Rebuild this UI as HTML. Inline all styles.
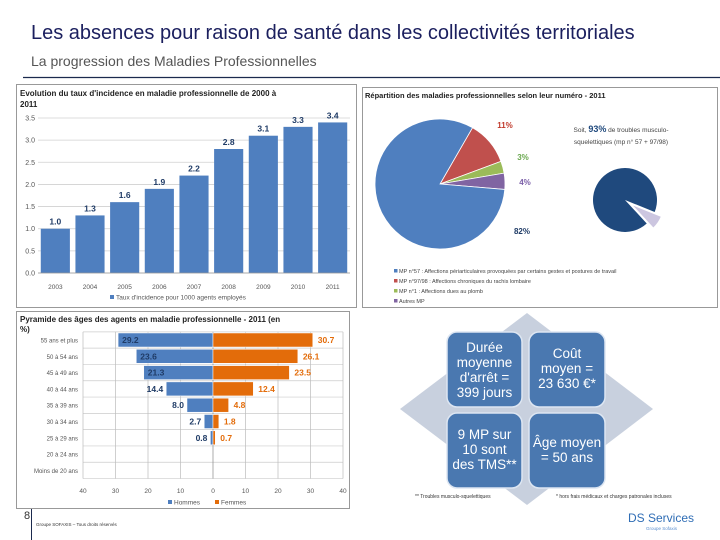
<!DOCTYPE html>
<html><head><meta charset="utf-8">
<style>
body{margin:0;background:#fff;}
svg{display:block;font-family:"Liberation Sans",sans-serif;}
</style></head>
<body>
<svg id="s" width="720" height="540" viewBox="0 0 720 540" xmlns="http://www.w3.org/2000/svg">
<text x="31" y="39" font-size="20" fill="#1b1f5e">Les absences pour raison de santé dans les collectivités territoriales</text>
<text x="31" y="66" font-size="14" fill="#555">La progression des Maladies Professionnelles</text>
<line x1="23" y1="77.5" x2="720" y2="77.5" stroke="#1b2a4e" stroke-width="1.2"/>

<g id="c1">
<rect x="16.5" y="84.5" width="340" height="223" fill="#fff" stroke="#999"/>
<text x="20" y="96" font-size="8" font-weight="bold" fill="#222">Evolution du taux d'incidence en maladie professionnelle  de 2000 à</text>
<text x="20" y="107" font-size="8" font-weight="bold" fill="#222">2011</text>
</g>
<g id="c2">
<rect x="16.5" y="311.5" width="333" height="197" fill="#fff" stroke="#999"/>
<text x="20" y="322" font-size="8" font-weight="bold" fill="#222">Pyramide des âges des agents en maladie professionnelle - 2011 (en</text>
<text x="20" y="332" font-size="8" font-weight="bold" fill="#222">%)</text>
</g>
<g id="c3">
<rect x="362.5" y="87.5" width="355" height="220" fill="#fff" stroke="#999"/>
<text x="365" y="98" font-size="7.5" font-weight="bold" fill="#222">Répartition des maladies professionnelles selon leur numéro - 2011</text>
<text x="621" y="132" font-size="6.5" fill="#444" text-anchor="middle">Soit, <tspan font-size="9" font-weight="bold" fill="#1f497d">93%</tspan> de troubles musculo-</text>
<text x="621" y="144" font-size="6.5" fill="#444" text-anchor="middle">squelettiques (mp n° 57 + 97/98)</text>
</g>

<g>
<polygon points="527,313 653,409 527,505 400,409" fill="#c8d0de"/>
<g font-size="13.5" fill="#fff" text-anchor="middle">
<rect x="447" y="332" width="75" height="75" rx="10" fill="#4a78b0" stroke="#dde6f2" stroke-width="1.5"/>
<text x="484.5" y="352" fill="#fff"><tspan x="484.5">Durée</tspan><tspan x="484.5" dy="15">moyenne</tspan><tspan x="484.5" dy="15">d'arrêt =</tspan><tspan x="484.5" dy="15">399 jours</tspan></text>
<rect x="529" y="332" width="76" height="75" rx="10" fill="#4a78b0" stroke="#dde6f2" stroke-width="1.5"/>
<text x="567" y="358" fill="#fff"><tspan x="567">Coût</tspan><tspan x="567" dy="15">moyen =</tspan><tspan x="567" dy="15">23 630 €*</tspan></text>
<rect x="447" y="413" width="75" height="75" rx="10" fill="#4a78b0" stroke="#dde6f2" stroke-width="1.5"/>
<text x="484.5" y="439" fill="#fff"><tspan x="484.5">9 MP sur</tspan><tspan x="484.5" dy="15">10 sont</tspan><tspan x="484.5" dy="15">des TMS**</tspan></text>
<rect x="529" y="413" width="76" height="75" rx="10" fill="#4a78b0" stroke="#dde6f2" stroke-width="1.5"/>
<text x="567" y="447" fill="#fff"><tspan x="567">Âge moyen</tspan><tspan x="567" dy="15">= 50 ans</tspan></text>
</g>
<text x="415" y="498" font-size="5" fill="#333">** Troubles musculo-squelettiques</text>
<text x="556" y="498" font-size="5" fill="#333">* hors frais médicaux et charges patronales incluses</text>
<text x="628" y="522" font-size="12" fill="#2f6db5">DS Services</text>
<text x="646" y="530" font-size="4.5" fill="#5b8fd0">Groupe Sofaxis</text>
</g>

<text x="24" y="519" font-size="11" fill="#333">8</text>
<line x1="31.5" y1="509" x2="31.5" y2="540" stroke="#1b2a4e" stroke-width="1"/>
<text x="36" y="526" font-size="4.5" fill="#333">Groupe SOFAXIS – Tous droits réservés</text>
</svg>
<script>
const years=["2003","2004","2005","2006","2007","2008","2009","2010","2011"];
const incidence=[1.0,1.3,1.6,1.9,2.2,2.8,3.1,3.3,3.4];
const yTicks=[0,0.5,1,1.5,2,2.5,3,3.5];
const ages=["55 ans et plus","50 à 54 ans","45 à 49 ans","40 à 44 ans","35 à 39 ans","30 à 34 ans","25 à 29 ans","20 à 24 ans","Moins de 20 ans"];
const hommes=[29.2,23.6,21.3,14.4,8.0,2.7,0.8,0,0];
const femmes=[30.7,26.1,23.5,12.4,4.8,1.8,0.7,0,0];
const pyrTicks=[-40,-30,-20,-10,0,10,20,30,40];
const pieLabels=["11%","3%","4%","82%"];
const pieValues=[11,3,4,82];
const pieNames=["MP n°57 : Affections périarticulaires provoquées par certains gestes et postures de travail","MP n°97/98 : Affections chroniques du rachis lombaire","MP n°1 : Affections dues au plomb","Autres MP"];
const tmsShare=[93,7];

const NS="http://www.w3.org/2000/svg";
function el(parent,tag,attrs,txt){const e=document.createElementNS(NS,tag);for(const k in attrs)e.setAttribute(k,attrs[k]);if(txt!==undefined)e.textContent=txt;parent.appendChild(e);return e;}

// Chart 1
(function(){
const g=document.getElementById('c1');
const x0=38,x1=350,yB=273,yT=118,vmax=3.5;
const y=v=>yB-(v/vmax)*(yB-yT);
const bw=(x1-x0)/years.length;
yTicks.forEach(t=>{
 const l=el(g,'line',{x1:x0,x2:x1,y1:y(t),y2:y(t),stroke:'#d0d0d0','stroke-width':0.8});
 
 
 const tx=el(g,'text',{x:35,y:y(t)+2.5,'font-size':7,fill:'#555','text-anchor':'end'},t.toFixed(1));
 
 
});
years.forEach((yr,i)=>{
 const cx=x0+bw*(i+0.5);
 const r=el(g,'rect',{x:cx-bw*0.42,y:y(incidence[i]),width:bw*0.84,height:yB-y(incidence[i]),fill:'#4f7fbf'});
 
 
 const v=el(g,'text',{x:cx,y:y(incidence[i])-4,'font-size':8.5,'font-weight':'bold',fill:'#1f3b66','text-anchor':'middle'},incidence[i].toFixed(1));
 
 
 const t=el(g,'text',{x:cx,y:289,'font-size':6.5,fill:'#555','text-anchor':'middle'},yr);
 
 
});
const ax=el(g,'line',{x1:x0,x2:x1,y1:yB,y2:yB,stroke:'#999','stroke-width':0.8});


const lm=el(g,'rect',{x:110,y:295,width:4,height:4,fill:'#4f7fbf'});


const lt=el(g,'text',{x:116,y:299.5,'font-size':6.5,fill:'#555'},"Taux d'incidence pour 1000 agents employés");


})();

// Chart 2
(function(){
const g=document.getElementById('c2');
const xz=213,sc=3.25;
const x=v=>xz+v*sc;
const yc0=340,dy=16.3;
for(let i=0;i<=ages.length;i++){
 const yy=yc0-dy/2+i*dy;
 const l=el(g,'line',{x1:83,x2:343,y1:yy,y2:yy,stroke:'#ccc','stroke-width':0.7});
 
 
}
pyrTicks.forEach(t=>{
 const l=el(g,'line',{x1:x(t),x2:x(t),y1:yc0-dy/2,y2:yc0-dy/2+ages.length*dy,stroke:t===0?'#888':'#bbb','stroke-width':0.7});
 
 
 const tx=el(g,'text',{x:x(t),y:493,'font-size':6.5,fill:'#555','text-anchor':'middle'},String(Math.abs(t)));
 
 
});
ages.forEach((a,i)=>{
 const cy=yc0+i*dy;
 const lb=el(g,'text',{x:78,y:cy+2.5,'font-size':6,fill:'#555','text-anchor':'end'},a);
 
 
 if(hommes[i]>0){
  const r=el(g,'rect',{x:x(-hommes[i]),y:cy-7,width:hommes[i]*sc,height:14,fill:'#4f7fbf',stroke:'#fff','stroke-width':0.5});
  
  
  const inside=hommes[i]>15;
  const t=el(g,'text',{x:inside?x(-hommes[i])+4:x(-hommes[i])-3,y:cy+3,'font-size':8.5,'font-weight':'bold',fill:'#1f3b66','text-anchor':inside?'start':'end'},hommes[i].toFixed(1));
  
  
 }
 if(femmes[i]>0){
  const r=el(g,'rect',{x:xz,y:cy-7,width:femmes[i]*sc,height:14,fill:'#e36c0a',stroke:'#fff','stroke-width':0.5});
  
  
  const t=el(g,'text',{x:x(femmes[i])+5,y:cy+3,'font-size':8.5,'font-weight':'bold',fill:'#e36c0a'},femmes[i].toFixed(1));
  
  
 }
});
[['#4f7fbf','Hommes',168],['#e36c0a','Femmes',215]].forEach(d=>{
 const m=el(g,'rect',{x:d[2],y:500,width:4,height:4,fill:d[0]});
 
 
 const t=el(g,'text',{x:d[2]+6,y:504.5,'font-size':6.5,fill:'#555'},d[1]);
 
 
});
})();

// Chart 3
(function(){
const g=document.getElementById('c3');
const colors=['#c0504d','#9bbb59','#8064a2','#4f7fbf'];
const labPos=[[505,128],[523,160],[525,185],[522,234]];
const labCol=['#c0392b','#6aa84f','#7a5ea8','#1f3b66'];
const cx=440,cy=184,R=65;
let a=-60;
const tot=pieValues.reduce((s,v)=>s+v,0);
function arc(cx,cy,R,a0,a1){const r0=a0*Math.PI/180,r1=a1*Math.PI/180;return `M${cx},${cy} L${cx+R*Math.cos(r0)},${cy+R*Math.sin(r0)} A${R},${R} 0 ${a1-a0>180?1:0} 1 ${cx+R*Math.cos(r1)},${cy+R*Math.sin(r1)} Z`;}
pieValues.forEach((v,i)=>{
 const sw=v/tot*360;
 const p=el(g,'path',{d:arc(cx,cy,R,a,a+sw),fill:colors[i],stroke:'#fff','stroke-width':0.8});
 
 
 a+=sw;
 const t=el(g,'text',{x:labPos[i][0],y:labPos[i][1],'font-size':8,'font-weight':'bold',fill:labCol[i],'text-anchor':'middle'},pieLabels[i]);
 
 
});
pieNames.forEach((n,i)=>{
 const c=i===0?colors[3]:colors[i-1];
 const yy=273+i*10;
 const m=el(g,'rect',{x:394,y:yy-4,width:3.5,height:3.5,fill:c});
 
 
 const t=el(g,'text',{x:399,y:yy,'font-size':5.5,fill:'#444'},n);
 
 
});
// small pie
const scx=625,scy=200,sr=32;
const s1=tmsShare[0]/100*360,s0=22-s1;
const p1=el(g,'path',{d:arc(scx,scy,sr,s0,s0+s1),fill:'#1f497d'});


const mid=(s0+s1+s0+360)/2*Math.PI/180;
const p2=el(g,'path',{d:arc(scx+8*Math.cos(mid),scy+8*Math.sin(mid),sr,s0+s1,s0+360),fill:'#ccc6e0',stroke:'#fff','stroke-width':0.8});


})();
</script>
</body></html>
